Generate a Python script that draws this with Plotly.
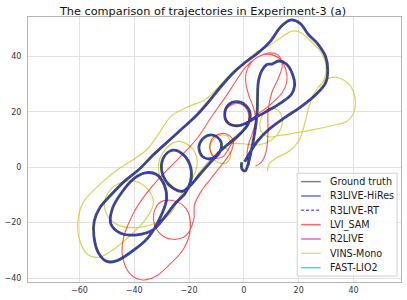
import plotly.graph_objects as go

# ---------------- data (metres) ----------------
GT_X = [-0.8, -0.7, 0.5, 1.5, 2.6, 3.6, 4.4, 4.9, 5.0, 5.3, 6.6, 8.6, 10.3, 12.6, 15.4, 17.6, 18.5, 17.3,
        13.5, 8.5, 4.3, 1.0, -2.5, -5.8, -7.0, -5.6, -2.5, 0.6, 2.3, 1.5, -1.5, -5.0, -8.5, -11.5, -15.0,
        -16.4, -14.2, -10.8, -8.3, -8.8, -12.0, -16.0, -19.5, -22.5, -26.5, -29.8, -29.3, -26.0, -22.0,
        -19.4, -19.4, -21.5, -25.0, -28.5, -33.0, -39.0, -45.0, -48.5, -48.0, -44.5, -40.0, -36.0, -32.0,
        -29.0, -28.2, -30.0, -35.0, -41.0, -46.5, -50.0, -53.0, -54.7, -54.6, -52.5, -48.5, -43.5, -38.5,
        -33.0, -27.5, -22.5, -17.5, -13.0, -8.5, -4.0, 0.0, 5.0, 9.5, 13.5, 17.0, 20.5, 23.5, 27.0, 29.8,
        30.6, 29.8, 26.5, 21.0, 15.0, 9.5, 5.0, 2.0, 0.3]
GT_Y = [1.8, -0.6, -1.3, 1.0, 5.5, 10.5, 15.5, 21.0, 26.0, 31.0, 35.0, 37.2, 37.3, 38.4, 37.4, 34.0, 29.5, 26.3,
        23.3, 20.3, 18.0, 16.0, 15.0, 16.0, 19.0, 22.6, 23.7, 22.4, 19.3, 15.5, 12.0, 9.0, 6.0, 3.2, 3.8,
        7.5, 11.0, 11.5, 9.0, 5.5, 2.0, -2.5, -6.5, -8.7, -7.0, -2.0, 3.5, 6.2, 4.5,
        0.0, -5.0, -9.5, -13.0, -17.5, -22.5, -24.4, -23.8, -20.5, -15.0, -9.0, -4.0, -2.0, -2.5,
        -6.5, -11.5, -17.0, -25.5, -30.5, -33.8, -34.0, -31.0, -25.0, -19.5, -14.5, -10.0, -5.0, -1.0,
        4.5, 9.5, 14.0, 18.5, 23.5, 29.0, 34.0, 37.5, 41.2, 45.3, 50.8, 53.2, 52.0, 48.0, 44.5, 40.0,
        35.0, 30.5, 26.5, 22.0, 18.0, 14.0, 9.5, 5.0, 2.0]

# the LiDAR-based estimates coincide with the ground truth at this scale
R3LIVE_HIRES_X, R3LIVE_HIRES_Y = GT_X, GT_Y
R3LIVE_RT_X, R3LIVE_RT_Y = GT_X, GT_Y
R2LIVE_X, R2LIVE_Y = GT_X, GT_Y
FAST_LIO2_X, FAST_LIO2_Y = GT_X, GT_Y

LVI_SAM_X = [2.0, 1.2, 1.6, 3.2, 4.3, 3.5, 1.8, 0.7, 0.9, 2.8, 6.0, 9.5, 13.0, 15.2, 15.7, 14.0, 9.5, 5.0,
             1.0, -3.0, -6.0, -6.8, -4.5, -1.0, 1.5, 1.3, -1.5, -4.5, -7.5, -10.5, -12.5, -11.0, -7.0, -4.0,
             -4.5, -8.0, -12.0, -15.5, -18.0, -18.3, -21.0, -26.0, -31.0, -33.0, -31.0, -26.0, -21.0, -19.5,
             -22.0, -27.0, -32.0, -37.0, -41.5, -44.3, -43.8, -41.0, -38.5, -34.0, -29.0, -23.5, -17.0, -12.0,
             -7.0, -3.0, 0.5, 4.5, 9.0, 12.5, 14.0, 12.5, 10.2, 8.8, 8.8, 8.2, 6.5, 4.3]
LVI_SAM_Y = [0.7, 3.5, 8.0, 12.5, 17.0, 21.5, 26.0, 30.5, 34.5, 38.0, 40.3, 40.8, 39.3, 35.5, 31.0, 27.0, 22.5, 19.2,
             16.3, 15.0, 16.5, 20.0, 22.5, 22.8, 20.0, 15.5, 11.5, 8.5, 4.0, 3.5, 7.0, 11.0, 12.2, 10.0,
             6.0, 1.0, -4.0, -8.5, -13.5, -19.0, -24.5, -26.0, -23.5, -18.0, -13.0, -12.0, -15.0, -22.0,
             -29.5, -35.0, -39.3, -40.7, -38.5, -32.0, -25.0, -18.0, -13.5, -7.5, -2.0, 3.5, 10.5, 18.0,
             25.0, 31.0, 36.0, 39.5, 41.3, 40.5, 37.0, 32.0, 27.0, 20.0, 13.0, 6.0, 2.0, 0.4]

VINS_MONO_X = [8.6, 9.2, 12.0, 16.5, 20.0, 22.0, 23.5, 25.5, 28.5, 32.0, 35.5, 38.8, 40.6, 40.0, 37.5, 32.0,
               25.0, 18.0, 13.0, 9.0, 6.3, 6.2, 8.5, 12.0, 14.0, 13.0, 9.5, 5.0, 0.0, -4.6, -6.0, -9.0,
               -11.8, -12.0, -10.0, -6.5, -4.8, -7.0, -12.0, -17.0, -20.0, -25.0, -29.5, -31.2, -29.0, -24.5,
               -19.5, -17.0, -18.5, -23.0, -27.0, -33.0, -39.0, -46.0, -50.5, -50.0, -46.0, -40.0, -35.0,
               -33.0, -36.0, -43.0, -48.0, -53.0, -57.0, -60.0, -60.5, -58.5, -54.0, -47.0, -40.0, -35.0,
               -30.5, -26.5, -20.0, -14.0, -10.0, -6.5, -2.9, 1.0, 4.3, 9.0, 13.9, 17.5, 20.5, 24.0, 28.2,
               30.0, 29.3, 27.5]
VINS_MONO_Y = [-1.4, 1.2, 3.5, 5.8, 9.5, 15.0, 21.0, 26.5, 30.5, 32.5, 32.0, 29.5, 24.5, 19.5, 16.5, 15.0,
               13.5, 12.3, 11.5, 11.0, 13.0, 17.5, 21.0, 21.0, 17.5, 13.0, 9.5, 8.0, 8.5, 9.0, 11.3, 11.5,
               9.0, 5.0, 2.0, 1.5, 4.5, 7.0, 3.0, -3.0, -7.5, -8.0, -5.0, 0.0, 6.0, 9.3,
               7.5, 2.5, -3.5, -10.0, -17.0, -20.5, -21.8, -20.8, -16.0, -10.0, -6.0, -5.0, -8.0,
               -13.0, -19.0, -26.0, -30.0, -32.5, -31.5, -26.0, -19.0, -12.5, -7.5, -1.5, 3.0, 6.8,
               13.0, 18.5, 22.0, 24.5, 28.2, 32.0, 35.5, 38.5, 41.4, 43.8, 47.1, 49.2, 48.8, 46.0, 41.4,
               36.4, 31.8, 29.0]

SERIES_NAMES = ["Ground truth", "R3LIVE-HiRes", "R3LIVE-RT", "LVI_SAM", "R2LIVE", "VINS-Mono", "FAST-LIO2"]
X_TICKS = [-60, -40, -20, 0, 20, 40]
Y_TICKS = [-40, -20, 0, 20, 40]
TITLE = "The comparison of trajectories in Experiment-3 (a)"

# ---------------- styles ----------------
STYLE = {
    "Ground truth": dict(color="rgba(0,0,0,0.72)", width=2.8, dash="solid"),
    "R3LIVE-HiRes": dict(color="rgba(0,0,255,0.5)", width=1.1, dash="solid"),
    "R3LIVE-RT": dict(color="rgba(80,80,255,0.55)", width=0.9, dash="3px,2px"),
    "LVI_SAM": dict(color="rgba(255,0,0,0.65)", width=1.15, dash="solid"),
    "R2LIVE": dict(color="rgba(191,0,191,0.35)", width=1.3, dash="solid"),
    "VINS-Mono": dict(color="rgba(191,191,0,0.65)", width=1.2, dash="solid"),
    "FAST-LIO2": dict(color="rgba(0,191,191,0.5)", width=1.6, dash="solid"),
}
LEGEND_COLOR = {
    "Ground truth": "rgba(0,0,0,0.5)", "R3LIVE-HiRes": "rgba(0,0,255,0.6)", "R3LIVE-RT": "rgba(0,0,255,0.6)",
    "LVI_SAM": "rgba(255,0,0,0.6)", "R2LIVE": "rgba(191,0,191,0.6)", "VINS-Mono": "rgba(191,191,0,0.5)",
    "FAST-LIO2": "rgba(0,191,191,0.7)",
}
DATA = {
    "Ground truth": (GT_X, GT_Y),
    "R3LIVE-HiRes": (R3LIVE_HIRES_X, R3LIVE_HIRES_Y),
    "R3LIVE-RT": (R3LIVE_RT_X, R3LIVE_RT_Y),
    "LVI_SAM": (LVI_SAM_X, LVI_SAM_Y),
    "R2LIVE": (R2LIVE_X, R2LIVE_Y),
    "VINS-Mono": (VINS_MONO_X, VINS_MONO_Y),
    "FAST-LIO2": (FAST_LIO2_X, FAST_LIO2_Y),
}
DRAW_ORDER = ["VINS-Mono", "LVI_SAM", "Ground truth", "FAST-LIO2", "R2LIVE", "R3LIVE-HiRes", "R3LIVE-RT"]

W, H = 407, 300
ML, MR, MT, MB = 21, 5, 17, 15
FONT = "DejaVu Sans"

fig = go.Figure()
for name in DRAW_ORDER:
    xs, ys = DATA[name]
    st = STYLE[name]
    fig.add_trace(go.Scatter(
        x=xs, y=ys, mode="lines", name=name, showlegend=False, hoverinfo="skip",
        line=dict(color=st["color"], width=st["width"], dash=st["dash"], shape="spline", smoothing=1.0),
    ))

# ---------------- custom legend (matplotlib-like compact box) ----------------
pw, ph = W - ML - MR, H - MT - MB
def px_to_paper(px, py):
    return (px - ML) / pw, (H - MB - py) / ph

shapes = []
annotations = []
bx0, by0 = px_to_paper(296, 279)
bx1, by1 = px_to_paper(398, 175)
shapes.append(dict(type="rect", xref="paper", yref="paper", x0=bx0, y0=by0, x1=bx1, y1=by1,
                   fillcolor="rgba(255,255,255,0.85)", line=dict(color="#d0d0d0", width=1), layer="above"))
row0, row_step = 183.5, 14.5
for i, name in enumerate(SERIES_NAMES):
    ypx = row0 + i * row_step
    lx0, ly = px_to_paper(300, ypx)
    lx1, _ = px_to_paper(320, ypx)
    shapes.append(dict(type="line", xref="paper", yref="paper", x0=lx0, x1=lx1, y0=ly, y1=ly,
                       line=dict(color=LEGEND_COLOR[name], width=1.5, dash=STYLE[name]["dash"]), layer="above"))
    tx, _ = px_to_paper(327, ypx)
    annotations.append(dict(xref="paper", yref="paper", x=tx, y=ly, text=name, showarrow=False,
                            xanchor="left", yanchor="middle", font=dict(family=FONT, size=9.6, color="#1a1a1a")))

fig.update_layout(
    width=W, height=H, margin=dict(l=ML, r=MR, t=MT, b=MB),
    paper_bgcolor="white", plot_bgcolor="white",
    title=dict(text=TITLE, x=203 / W, xanchor="center", y=1 - 11 / H, yanchor="middle",
               font=dict(family=FONT, size=11.3, color="#111111")),
    font=dict(family=FONT, size=8, color="#333333"),
    xaxis=dict(range=[-78.75, 57.32], tickvals=X_TICKS, showgrid=True, gridcolor="#e2e2e2", gridwidth=1,
               zeroline=False, showline=True, linecolor="#b5b5b5", linewidth=1, mirror=True,
               ticks="", tickfont=dict(family=FONT, size=8, color="#333333"), fixedrange=True),
    yaxis=dict(range=[-41.43, 54.29], tickvals=Y_TICKS, showgrid=True, gridcolor="#e2e2e2", gridwidth=1,
               zeroline=False, showline=True, linecolor="#b5b5b5", linewidth=1, mirror=True,
               ticks="", ticklabelstandoff=4, tickfont=dict(family=FONT, size=8, color="#333333"),
               fixedrange=True),
    shapes=shapes, annotations=annotations, showlegend=False,
)

fig.write_html("out.html", config={"displayModeBar": False},
               post_script="document.body.style.margin='0';document.body.style.padding='0';")
